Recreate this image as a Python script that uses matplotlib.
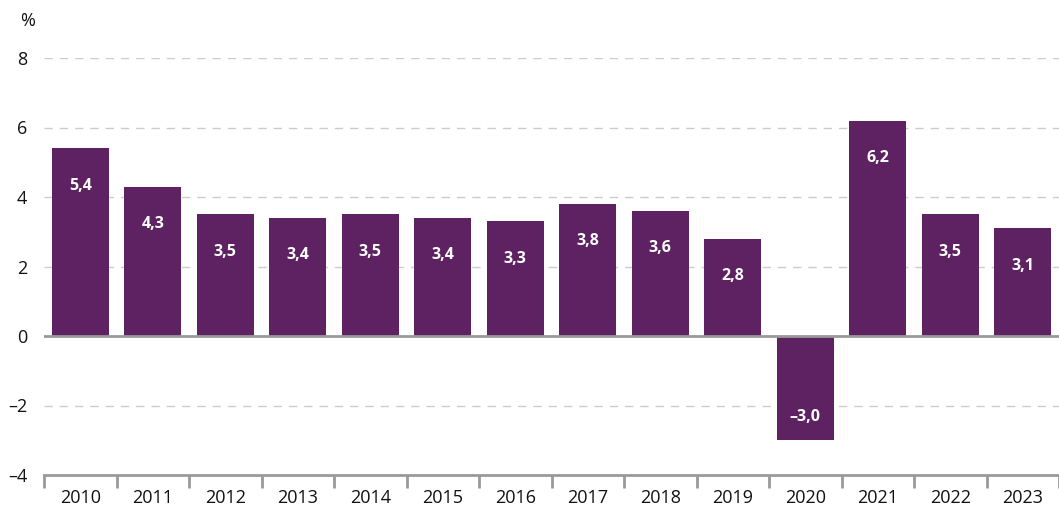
import matplotlib
matplotlib.use("Agg")
import matplotlib.pyplot as plt
import numpy as np

years = ["2010", "2011", "2012", "2013", "2014", "2015", "2016", "2017",
         "2018", "2019", "2020", "2021", "2022", "2023"]
values = [5.4, 4.3, 3.5, 3.4, 3.5, 3.4, 3.3, 3.8, 3.6, 2.8, -3.0, 6.2, 3.5, 3.1]
yticks = [-4, -2, 0, 2, 4, 6, 8]

plt.rcParams['font.family'] = ['Open Sans', 'DejaVu Sans']

W, H = 1059, 509
fig = plt.figure(figsize=(W / 100, H / 100), dpi=100)
ax = fig.add_axes([44 / W, (H - 475) / H, 1 - 44 / W, (475 - 58) / H])

color = "#5E2262"
x = np.arange(len(years))
ax.bar(x, values, width=0.79, color=color, zorder=3)

for xi, v in zip(x, values):
    lab = f"{v:.1f}".replace(".", ",").replace("-", "\u2013")
    off = -27 if v >= 0 else 17
    ax.annotate(lab, (xi, v), xytext=(0, off), textcoords="offset points",
                ha="center", va="center", color="white", fontsize=11.5,
                fontweight="bold", zorder=4)

ax.set_xlim(-0.5, len(years) - 0.5)
ax.set_ylim(-4, 8)
ax.set_yticks(yticks)
ax.set_yticklabels([str(t).replace("-", "\u2013") for t in yticks], fontsize=13)
ax.tick_params(axis="y", length=0, pad=12, colors="#111111")

for t in yticks:
    if t in (0, -4):
        continue
    ax.axhline(t, color="#cccccc", linestyle=(0, (6, 5)), linewidth=1, zorder=1)
ax.axhline(0, color="#999999", linewidth=2, zorder=5)

for s in ["top", "right", "left"]:
    ax.spines[s].set_visible(False)
ax.spines["bottom"].set_color("#999999")
ax.spines["bottom"].set_linewidth(2)

ax.set_xticks(x)
ax.set_xticklabels(years, fontsize=13, color="#111111")
ax.tick_params(axis="x", which="major", length=0, pad=10)
ax.set_xticks(np.arange(-0.5, len(years), 1), minor=True)
ax.tick_params(axis="x", which="minor", length=9, width=2, color="#999999")

fig.text(20 / W, 1 - 21 / H, "%", fontsize=13, ha="left", va="center", color="#111111")

fig.savefig("out.png", dpi=100)
